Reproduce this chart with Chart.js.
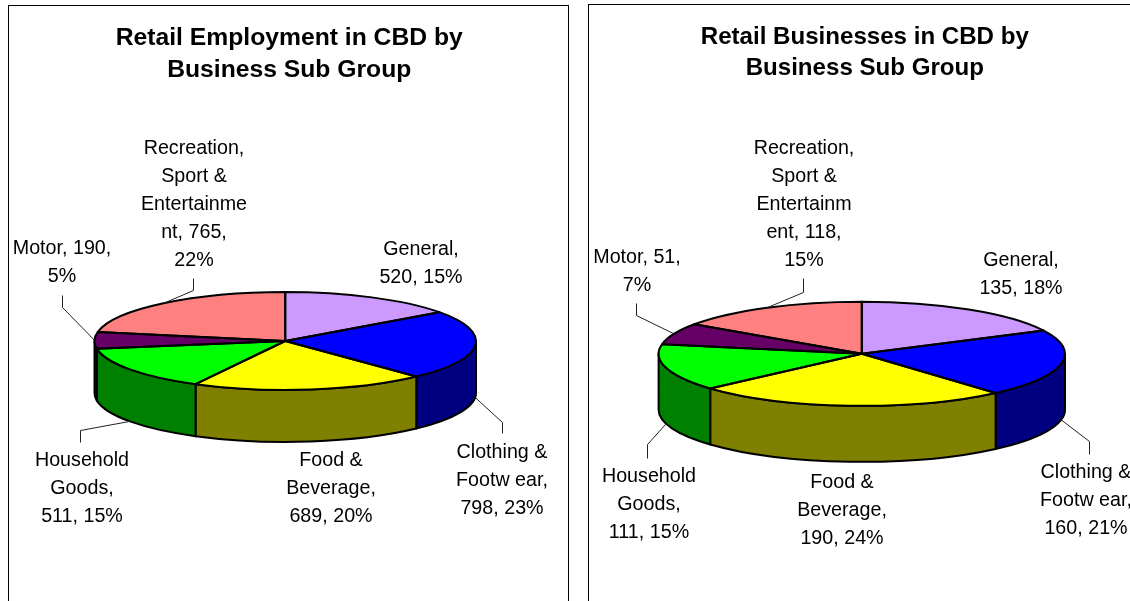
<!DOCTYPE html>
<html><head><meta charset="utf-8">
<script src="https://cdn.jsdelivr.net/npm/chart.js@4"></script>
<style>
html,body{margin:0;padding:0;background:#fff;width:1130px;height:601px;overflow:hidden}
.frame{position:absolute;border:1px solid #000;box-sizing:border-box;height:700px}
canvas{position:absolute;top:0}
</style></head><body>
<div class="frame" style="left:8px;top:5px;width:561px"></div>
<div class="frame" style="left:588px;top:4px;width:700px"></div>
<canvas id="c1" width="587" height="601" style="left:0;width:587px;height:601px"></canvas>
<canvas id="c2" width="560" height="601" style="left:588px;width:560px;height:601px"></canvas>
<script>
const categories = ['General','Clothing & Footwear','Food & Beverage','Household Goods','Motor','Recreation, Sport & Entertainment'];
const employmentValues = [520,798,689,511,190,765];
const businessValues = [135,160,190,111,51,118];
const employmentTitle = ['Retail Employment in CBD by','Business Sub Group'];
const businessTitle = ['Retail Businesses in CBD by','Business Sub Group'];
const employmentLabels = [
  ['General,','520, 15%'],
  ['Clothing &','Footw ear,','798, 23%'],
  ['Food &','Beverage,','689, 20%'],
  ['Household','Goods,','511, 15%'],
  ['Motor, 190,','5%'],
  ['Recreation,','Sport &','Entertainme','nt, 765,','22%']
];
const businessLabels = [
  ['General,','135, 18%'],
  ['Clothing &','Footw ear,','160, 21%'],
  ['Food &','Beverage,','190, 24%'],
  ['Household','Goods,','111, 15%'],
  ['Motor, 51,','7%'],
  ['Recreation,','Sport &','Entertainm','ent, 118,','15%']
];
const topColors = ['#CC99FF','#0000FF','#FFFF00','#00FF00','#660066','#FF8080'];
const wallColors = ['#666699','#000080','#808000','#008000','#330033','#804040'];

const LABEL_FONT = '19.7px "Liberation Sans"';
const LABEL_STEP = 28;

const pie3d = {
  id:'pie3d',
  afterLayout(chart,_,o){
    chart.titleBlock.left+=o.titleShift;
    chart.titleBlock.right+=o.titleShift;
  },
  beforeDatasetsDraw(chart,_,o){
    const ctx=chart.ctx, arcs=chart.getDatasetMeta(0).data;
    const p0=arcs[0].getProps(['x','y','outerRadius'],true);
    const cx=p0.x, cy=p0.y, r=p0.outerRadius, ry=r*o.ratio;
    ctx.save();
    ctx.lineWidth=2; ctx.strokeStyle='#000'; ctx.lineJoin='round';
    arcs.forEach((a,i)=>{
      const p=a.getProps(['startAngle','endAngle'],true);
      const s=Math.max(p.startAngle,0), e=Math.min(p.endAngle,Math.PI);
      if(e<=s) return;
      ctx.beginPath();
      ctx.ellipse(cx,cy,r,ry,0,s,e);
      ctx.ellipse(cx,cy+o.depth,r,ry,0,e,s,true);
      ctx.closePath();
      ctx.fillStyle=wallColors[i]; ctx.fill(); ctx.stroke();
    });
    ctx.restore();
    ctx.save();
    ctx.translate(cx,cy); ctx.scale(1,o.ratio); ctx.translate(-cx,-cy);
  },
  afterDatasetsDraw(chart,_,o){
    const ctx=chart.ctx, arcs=chart.getDatasetMeta(0).data;
    const paths=arcs.map(a=>{
      const p=a.getProps(['x','y','startAngle','endAngle','outerRadius'],true);
      const path=new Path2D();
      path.ellipse(p.x,p.y,p.outerRadius,p.outerRadius*o.ratio,0,p.startAngle,p.endAngle);
      path.lineTo(p.x,p.y); path.closePath();
      return path;
    });
    ctx.restore();
    ctx.save();
    ctx.lineWidth=2; ctx.strokeStyle='#000'; ctx.lineJoin='round';
    paths.forEach(pt=>ctx.stroke(pt));
    ctx.restore();
  },
  afterDraw(chart,_,o){
    const ctx=chart.ctx, arcs=chart.getDatasetMeta(0).data;
    ctx.save();
    ctx.lineWidth=1; ctx.strokeStyle='#222';
    o.leaders.forEach((pts,i)=>{
      if(!pts) return;
      const p=arcs[i].getProps(['x','y','startAngle','endAngle','outerRadius'],true);
      const m=(p.startAngle+p.endAngle)/2;
      const ax=p.x+p.outerRadius*Math.cos(m);
      let ay=p.y+p.outerRadius*o.ratio*Math.sin(m);
      if(Math.sin(m)>0) ay+=o.depth;
      ctx.beginPath(); ctx.moveTo(ax,ay);
      pts.forEach(q=>ctx.lineTo(q[0]+.5,q[1]+.5));
      ctx.stroke();
    });
    ctx.fillStyle='#000'; ctx.font=LABEL_FONT; ctx.textAlign='center'; ctx.textBaseline='middle';
    o.text.forEach((lines,i)=>{
      const [x,y]=o.anchors[i];
      lines.forEach((t,j)=>ctx.fillText(t,x,y+1.5+j*LABEL_STEP));
    });
    ctx.restore();
  }
};

function make(id,values,title,text,layout,titlePad,anchors,leaders,depth,ratio){
  new Chart(document.getElementById(id),{
    type:'pie',
    data:{labels:categories,datasets:[{data:values,backgroundColor:topColors,borderWidth:0}]},
    plugins:[pie3d],
    options:{
      responsive:false,animation:false,
      layout:{padding:layout},
      plugins:{
        legend:{display:false},tooltip:{enabled:false},
        title:{display:true,text:title,color:'#000',align:'center',
          font:{family:'"Liberation Sans"',size:titlePad.size,weight:'bold',lineHeight:titlePad.line/titlePad.size},
          padding:{top:titlePad.top,bottom:titlePad.bottom}},
        pie3d:{text,anchors,leaders,depth,ratio,titleShift:titlePad.shift}
      }
    }
  });
}
make('c1',employmentValues,employmentTitle,employmentLabels,
  {left:94.5,right:111,top:0,bottom:69},{top:22,bottom:64,line:32,size:24.7,shift:4},
  [[421,248],[502,451],[331,459],[82,459],[62,247],[194,147]],
  [null,[[502,422],[502,433]],null,[[80,430],[80,442]],[[62,307],[62,295]],[[193,290],[193,278]]],
  52,49/191);
make('c2',businessValues,businessTitle,businessLabels,
  {left:70.6,right:83,top:0,bottom:43.5},{top:21.5,bottom:66.5,line:31,size:24.1,shift:3},
  [[433,259],[498,471],[254,481],[61,475],[49,256],[216,147]],
  [null,[[501,441],[501,454]],null,[[59,444],[59,458]],[[48,315],[48,303]],[[215,292],[215,278]]],
  56,52/203);
</script>
</body></html>
